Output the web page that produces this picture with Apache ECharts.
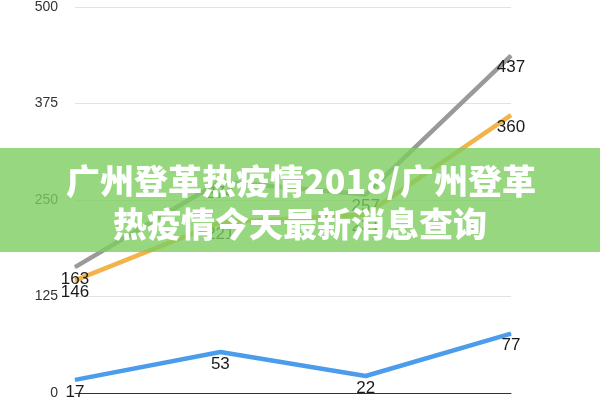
<!DOCTYPE html>
<html>
<head>
<meta charset="utf-8">
<script src="https://cdn.jsdelivr.net/npm/echarts@6/dist/echarts.min.js"></script>
<style>
  html, body { margin: 0; padding: 0; background: #fff; }
  #main { width: 600px; height: 400px; }
</style>
</head>
<body>
<div id="main"></div>
<script>
var categories = ["1", "2", "3", "4"];
var yTicks = [0, 125, 250, 375, 500];
var grayData = [163, 274, 257, 437];
var orangeData = [146, 221, 231, 360];
var blueData = [17, 53, 22, 77];
var bannerLines = ["广州登革热疫情2018/广州登革", "热疫情今天最新消息查询"];

var chart = echarts.init(document.getElementById("main"));

function lineSeries(name, data, color) {
  return {
    name: name,
    type: "line",
    data: data,
    showSymbol: true,
    symbol: "circle",
    symbolSize: 1,
    lineStyle: { color: color, width: 4.5 },
    itemStyle: { color: color },
    label: {
      show: true,
      position: "bottom",
      distance: 3,
      color: "#1a1a1a",
      fontSize: 17,
      fontFamily: "Liberation Sans"
    }
  };
}

var option = {
  animation: false,
  grid: { left: 75, right: 89, top: 3, bottom: 4 },
  xAxis: {
    type: "category",
    data: categories,
    boundaryGap: false,
    axisLabel: { show: false },
    axisTick: { show: false },
    axisLine: { lineStyle: { color: "#333", width: 1 } }
  },
  yAxis: {
    type: "value",
    min: yTicks[0],
    max: yTicks[yTicks.length - 1],
    interval: 125,
    axisLine: { show: false },
    axisTick: { show: false },
    axisLabel: {
      margin: 17,
      color: "#333",
      fontSize: 14,
      fontFamily: "Liberation Sans"
    },
    splitLine: { lineStyle: { color: "#e2e2e2", width: 1 } }
  },
  series: [
    lineSeries("gray", grayData, "#9a9a9a"),
    lineSeries("orange", orangeData, "#f2b44a"),
    lineSeries("blue", blueData, "#4b9dec")
  ],
  graphic: [
    {
      type: "rect",
      z: 100,
      shape: { x: 0, y: 148, width: 600, height: 104 },
      style: { fill: "rgba(124,205,95,0.8)" }
    },
    {
      type: "text",
      z: 101,
      x: 301,
      y: 181,
      style: {
        text: bannerLines[0],
        fill: "#fff",
        font: "900 34px 'Noto Sans CJK SC'",
        align: "center",
        verticalAlign: "middle"
      }
    },
    {
      type: "text",
      z: 101,
      x: 300,
      y: 224,
      style: {
        text: bannerLines[1],
        fill: "#fff",
        font: "900 34px 'Noto Sans CJK SC'",
        align: "center",
        verticalAlign: "middle"
      }
    }
  ]
};

chart.setOption(option);
</script>
</body>
</html>
